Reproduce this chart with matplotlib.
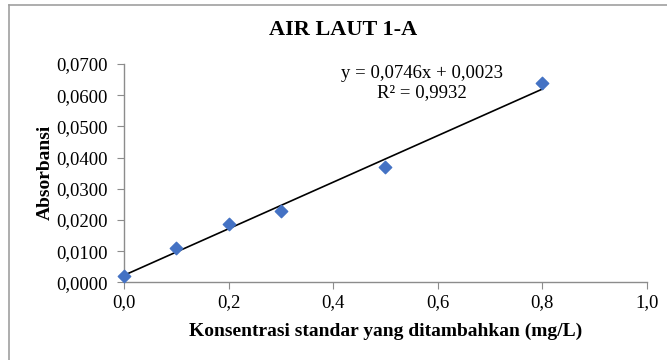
import matplotlib
matplotlib.use("Agg")
import matplotlib.pyplot as plt
from matplotlib.ticker import FuncFormatter, MultipleLocator
from matplotlib.lines import Line2D

plt.rcParams['font.family'] = ['Liberation Serif', 'DejaVu Serif']

# data
konsentrasi = [0.0, 0.1, 0.2, 0.3, 0.5, 0.8]
absorbansi = [0.0022, 0.0111, 0.0189, 0.0230, 0.0369, 0.0638]
slope = 0.0746
intercept = 0.0023
r2 = 0.9932

def koma(v, n):
    return ('%.*f' % (n, v)).replace('.', ',')

fig = plt.figure(figsize=(6.67, 3.6), dpi=100)
ax = fig.add_axes([0.1859, 0.2153, 0.7841, 0.6069])

# garis trend
x_fit = [min(konsentrasi), max(konsentrasi)]
y_fit = [slope * x + intercept for x in x_fit]
ax.plot(x_fit, y_fit, color='black', lw=1.2, zorder=2)
ax.scatter(konsentrasi, absorbansi, marker='D', s=40, color='#4472C4',
           zorder=3, clip_on=False)

ax.set_xlim(0, 1.0)
ax.set_ylim(0, 0.07)
ax.xaxis.set_major_locator(MultipleLocator(0.2))
ax.yaxis.set_major_locator(MultipleLocator(0.01))
ax.xaxis.set_major_formatter(FuncFormatter(lambda v, p: koma(v, 1)))
ax.yaxis.set_major_formatter(FuncFormatter(lambda v, p: koma(v, 4)))

for s in ['top', 'right']:
    ax.spines[s].set_visible(False)
for s in ['left', 'bottom']:
    ax.spines[s].set_color('#8c8c8c')
    ax.spines[s].set_linewidth(1.0)
ax.tick_params(axis='both', direction='out', length=5, color='#8c8c8c',
               labelsize=13.5)
ax.tick_params(axis='x', pad=3)
ax.tick_params(axis='y', pad=6.5)

ax.text(0.569, 0.0668, 'y = %sx + %s' % (koma(slope, 4), koma(intercept, 4)),
        ha='center', va='center', fontsize=13.5)
ax.text(0.569, 0.0608, 'R² = ' + koma(r2, 4), ha='center', va='center',
        fontsize=13.5)

fig.text(0.514, 0.918, 'AIR LAUT 1-A', ha='center', va='center',
         fontsize=16, fontweight='bold')
fig.text(0.578, 0.079, 'Konsentrasi standar yang ditambahkan (mg/L)',
         ha='center', va='center', fontsize=14, fontweight='bold')
fig.text(0.068, 0.522, 'Absorbansi', rotation=90, ha='center', va='center',
         fontsize=14, fontweight='bold')

# bingkai area chart
fig.add_artist(Line2D([0.0135, 1.0], [0.986, 0.986], color='#a0a0a0', lw=1.2,
                      transform=fig.transFigure))
fig.add_artist(Line2D([0.0135, 0.0135], [0.0, 0.986], color='#a0a0a0', lw=1.2,
                      transform=fig.transFigure))

plt.savefig('out.png', dpi=100)
